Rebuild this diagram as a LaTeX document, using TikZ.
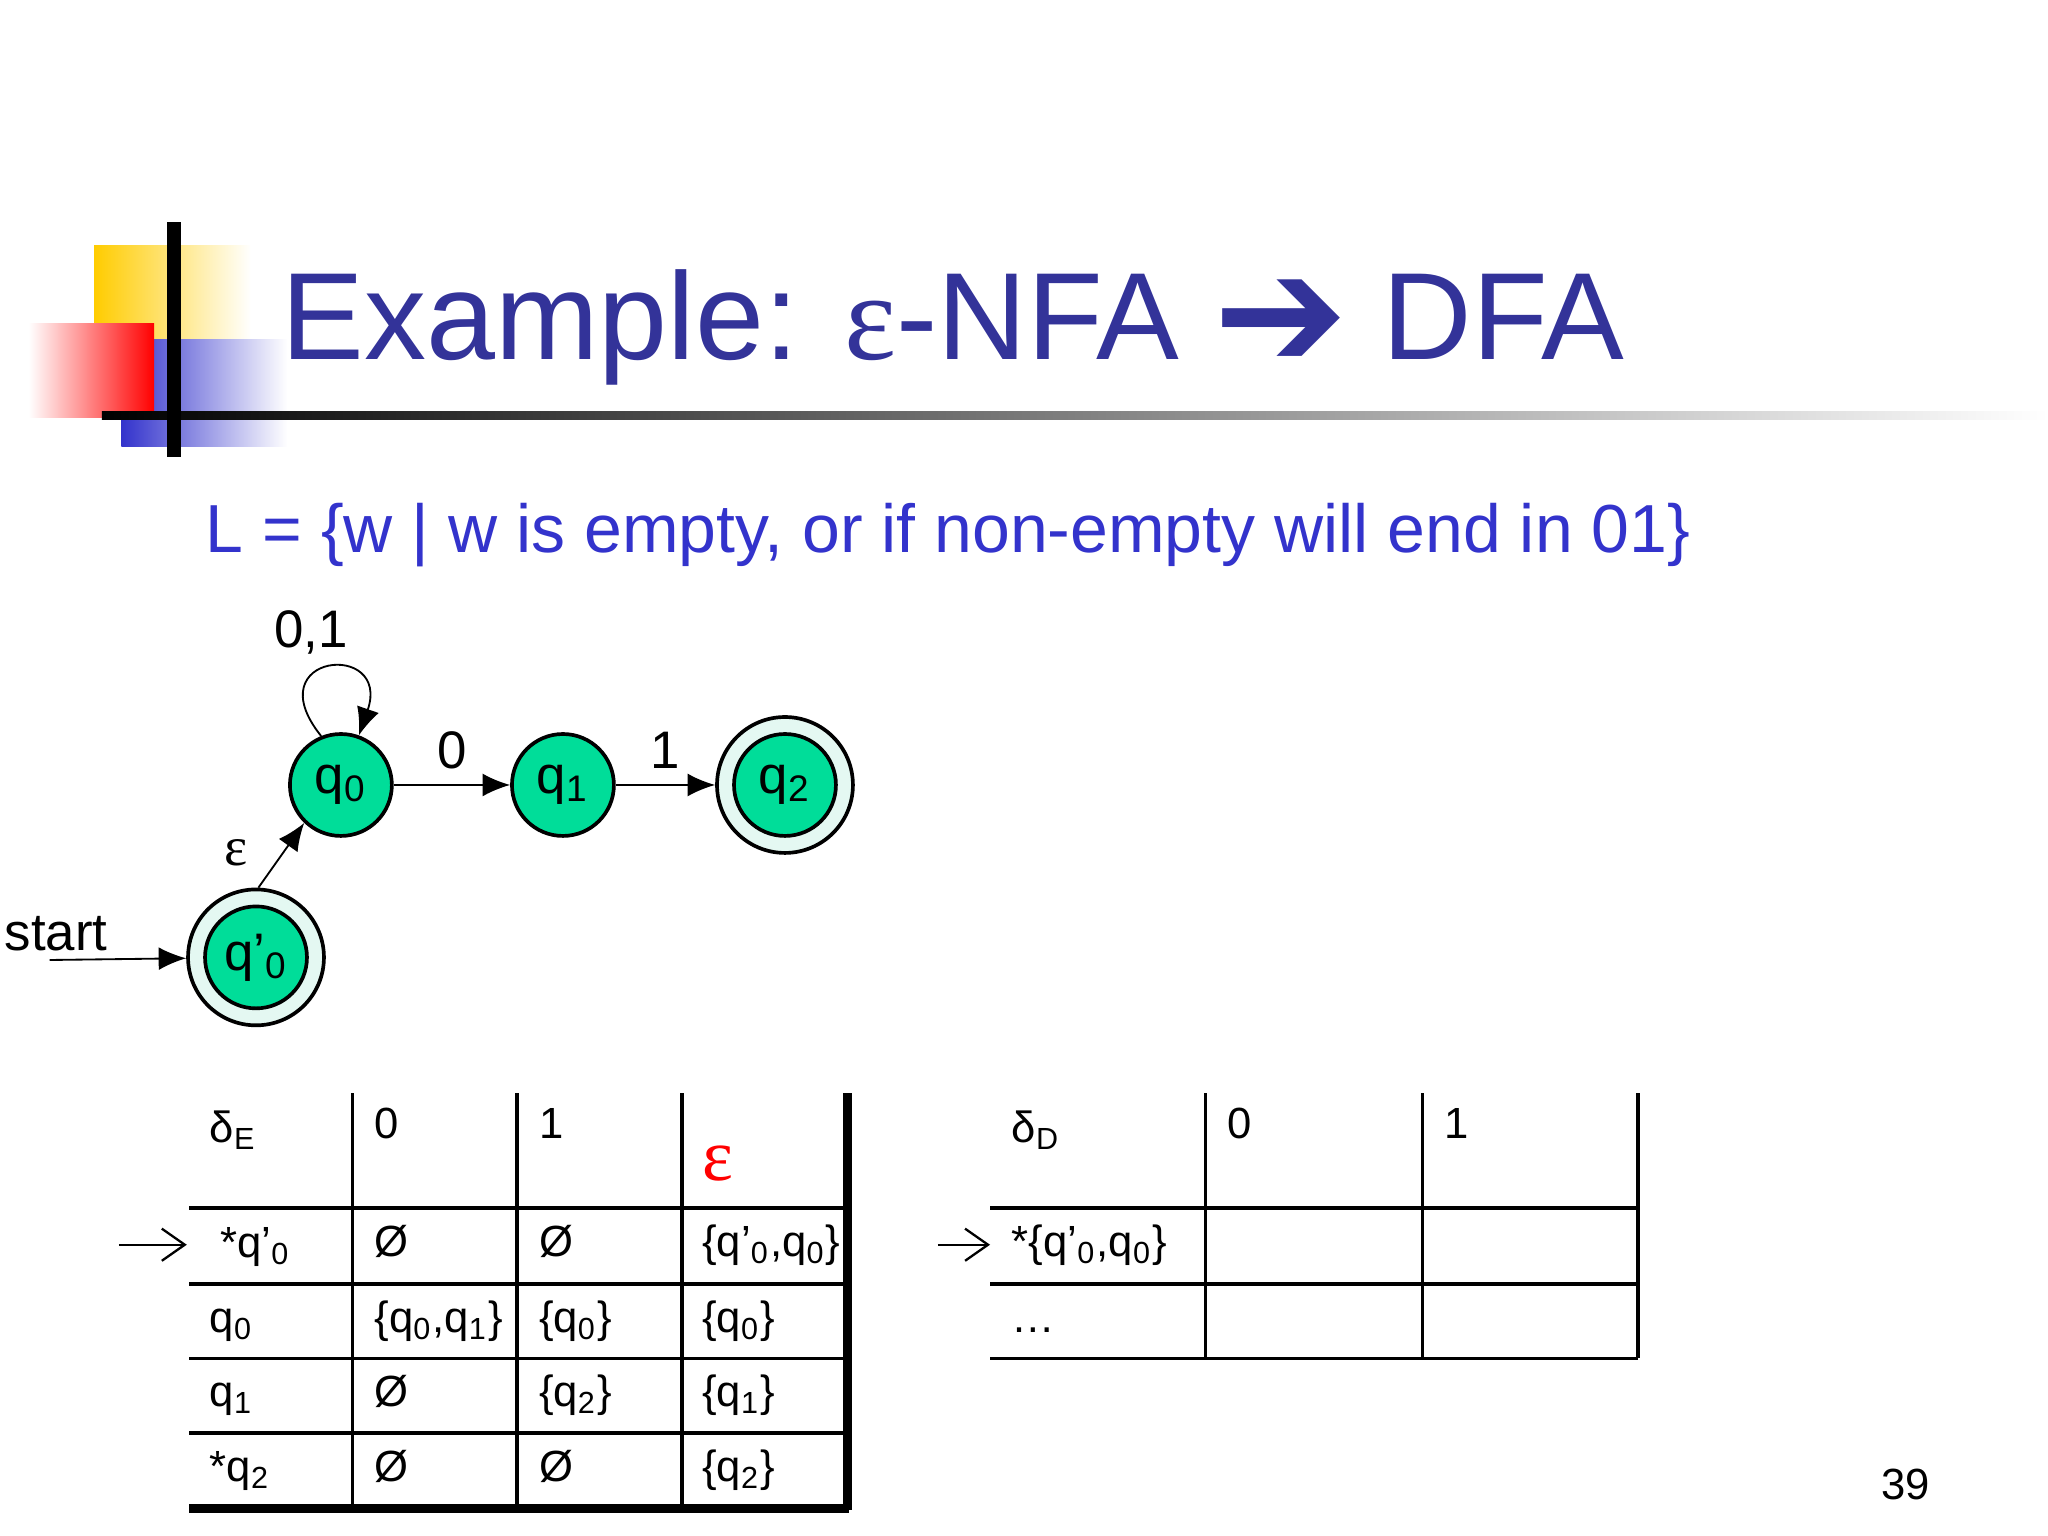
\documentclass[tikz,border=0pt]{standalone}
\usepackage{fontspec}
\setmainfont{Liberation Sans}
\newfontfamily\serifeps{Liberation Serif}
\newfontfamily\dejavu{DejaVu Sans}
\usetikzlibrary{arrows.meta}
\definecolor{ttl}{RGB}{51,51,153}
\definecolor{sub}{RGB}{51,51,204}
\definecolor{st}{RGB}{0,221,153}
\definecolor{ring}{RGB}{228,248,242}
\begin{document}
\begin{tikzpicture}[x=0.01cm,y=-0.01cm,
  state/.style={circle,draw,thick,fill=st,minimum size=0.78cm,inner sep=0pt,font=\fontsize{11.5}{13}\selectfont},
  outer/.style={circle,draw,thick,fill=ring,minimum size=1.04cm,inner sep=0pt},
  txt/.style={anchor=base west,inner sep=0pt,font=\fontsize{9.5}{12}\selectfont},
  edge/.style={-{Latex[length=6pt,width=5pt]}},
  thin arr/.style={-{Straight Barb[length=5pt,width=7pt]},line width=0.5pt}]
\useasboundingbox (0,0) rectangle (1568,1176);
% decoration
\shade[left color={rgb,255:red,255;green,204;blue,0},right color=white] (72,188) rectangle (192,300);
\shade[left color={rgb,255:red,51;green,51;blue,204},middle color={rgb,255:red,51;green,51;blue,204},right color=white] (93,260) rectangle (220,342);
\shade[left color=white,right color=red] (22,248) rectangle (118,320);
\shade[left color=black,right color=white] (78,315) rectangle (1568,321);
\draw[line width=3pt] (133,170) -- (133,350);
% title
\node[anchor=base west,inner sep=0pt,text=ttl,font=\fontsize{27}{32}\selectfont] (title) at (215,275)
  {Example: {\serifeps ε}-NFA {\dejavu\fontsize{35}{38}\selectfont\raisebox{-0.06em}{➔}} DFA};
\node[anchor=base west,inner sep=0pt,text=sub,font=\fontsize{14.8}{17}\selectfont] (lang) at (157,423)
  {L = \{w | w is empty, or if non-empty will end in 01\}};
% automaton
\node[state] (q0) at (261,601) {q\textsubscript{0}};
\node[state] (q1) at (431,601) {q\textsubscript{1}};
\node[outer] (q2o) at (601,601) {};
\node[state] (q2) at (601,601) {q\textsubscript{2}};
\node[outer] (q3o) at (196,733) {};
\node[state] (q3) at (196,733) {q'\textsubscript{0}};
\draw[edge] (q0) -- node[above,font=\fontsize{11.5}{13}\selectfont]{0} (q1);
\draw[edge] (q1) -- node[above,font=\fontsize{11.5}{13}\selectfont]{1} (q2o);
\coordinate (s0) at (38,735);
\draw[edge] (s0) -- (q3o);
\node[anchor=base west,inner sep=0pt,font=\fontsize{11.5}{13}\selectfont] (start) at (3,728) {start};
\draw[edge] (q3o.88) -- (q0.226);
\node[font=\serifeps\fontsize{12}{14}\selectfont] (eps) at (181,653) {ε};
\draw[edge] (q0.112) .. controls (195,500) and (300,490) .. (q0.70);
\node[font=\fontsize{11.5}{13}\selectfont] (loop) at (238,484) {0,1};
% table 1
\foreach \y in {925,983,1040,1097} \draw[thick] (145,\y) -- (649,\y);
\draw[line width=2pt] (145,1155) -- (650,1155);
\foreach \x in {270,396,522} \draw[thick] (\x,837) -- (\x,1155);
\draw[line width=2pt] (649,837) -- (649,1156);
\node[txt] (e0) at (160,875) {δ\textsubscript{E}};
\node[txt] (e1) at (286,872) {0};
\node[txt] (e2) at (412,872) {1};
\node[anchor=base west,inner sep=0pt,text=red,font=\serifeps\fontsize{16}{18}\selectfont] (e3) at (537,904) {ε};
\coordinate (a1s) at (91,953); \coordinate (a1e) at (143,953);
\draw[thin arr] (a1s) -- (a1e);
\node[txt] (r1) at (168,963) {*q'\textsubscript{0}};
\node[txt] (r1a) at (286,962) {Ø};
\node[txt] (r1b) at (412,962) {Ø};
\node[txt] (r1c) at (537,962) {\{q'\textsubscript{0},q\textsubscript{0}\}};
\node[txt] (r2) at (160,1020) {q\textsubscript{0}};
\node[txt] (r2a) at (286,1020) {\{q\textsubscript{0},q\textsubscript{1}\}};
\node[txt] (r2b) at (412,1020) {\{q\textsubscript{0}\}};
\node[txt] (r2c) at (537,1020) {\{q\textsubscript{0}\}};
\node[txt] (r3) at (160,1077) {q\textsubscript{1}};
\node[txt] (r3a) at (286,1077) {Ø};
\node[txt] (r3b) at (412,1077) {\{q\textsubscript{2}\}};
\node[txt] (r3c) at (537,1077) {\{q\textsubscript{1}\}};
\node[txt] (r4) at (160,1134) {*q\textsubscript{2}};
\node[txt] (r4a) at (286,1134) {Ø};
\node[txt] (r4b) at (412,1134) {Ø};
\node[txt] (r4c) at (537,1134) {\{q\textsubscript{2}\}};
% table 2
\foreach \y in {925,983,1040} \draw[thick] (758,\y) -- (1254,\y);
\foreach \x in {923,1089,1254} \draw[thick] (\x,837) -- (\x,1040);
\node[txt] (d0) at (774,875) {δ\textsubscript{D}};
\node[txt] (d1) at (939,872) {0};
\node[txt] (d2) at (1105,872) {1};
\coordinate (a2s) at (718,953); \coordinate (a2e) at (758,953);
\draw[thin arr] (a2s) -- (a2e);
\node[txt] (s1) at (774,962) {*\{q'\textsubscript{0},q\textsubscript{0}\}};
\node[txt] (s2) at (774,1020) {…};
\node[txt] (pg) at (1440,1148) {39};
\end{tikzpicture}
\end{document}
